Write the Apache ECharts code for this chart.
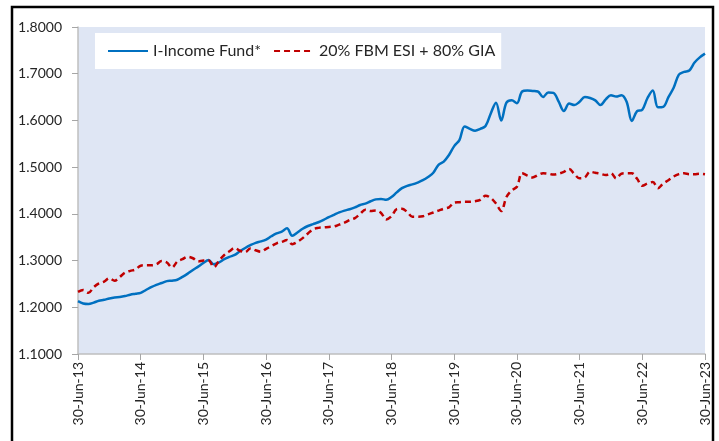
<!DOCTYPE html>
<html lang="en">
<head>
    <meta charset="utf-8">
    <title>I-Income Fund</title>
    <script src="https://cdn.jsdelivr.net/npm/echarts@6/dist/echarts.min.js"></script>
    <style>
        html, body { margin: 0; padding: 0; background: #fff; }
        #main { width: 719px; height: 441px; }
    </style>
</head>
<body>
<div id="main"></div>

<script type="text/javascript">
    // month ends Jun-13 .. Jun-23 (121 points)
    var monthNames = ['Jun','Jul','Aug','Sep','Oct','Nov','Dec','Jan','Feb','Mar','Apr','May'];
    var yearTicks = ['30-Jun-13','30-Jun-14','30-Jun-15','30-Jun-16','30-Jun-17','30-Jun-18',
                     '30-Jun-19','30-Jun-20','30-Jun-21','30-Jun-22','30-Jun-23'];

    var fund = [
        1.213,1.208,1.207,1.210,1.214,1.216,1.219,1.221,1.222,1.224,1.227,1.229,
        1.231,1.237,1.243,1.248,1.252,1.256,1.257,1.259,1.265,1.272,1.280,1.287,
        1.295,1.301,1.292,1.296,1.303,1.308,1.312,1.320,1.327,1.333,1.338,1.341,
        1.345,1.352,1.358,1.362,1.369,1.353,1.360,1.368,1.374,1.378,1.382,1.387,
        1.393,1.398,1.403,1.407,1.410,1.414,1.419,1.422,1.427,1.431,1.432,1.430,
        1.436,1.446,1.455,1.460,1.463,1.467,1.472,1.479,1.488,1.505,1.512,1.526,
        1.545,1.558,1.587,1.582,1.578,1.582,1.588,1.615,1.638,1.600,1.638,1.643,
        1.637,1.662,1.664,1.663,1.662,1.650,1.660,1.659,1.640,1.620,1.636,1.633,
        1.640,1.650,1.648,1.643,1.633,1.645,1.654,1.651,1.654,1.640,1.599,1.620,
        1.623,1.648,1.664,1.628,1.629,1.650,1.670,1.698,1.704,1.707,1.724,1.735,
        1.743
    ];

    var bench = [
        1.233,1.237,1.231,1.243,1.251,1.255,1.262,1.257,1.265,1.274,1.278,1.281,
        1.289,1.290,1.290,1.292,1.299,1.296,1.285,1.298,1.303,1.308,1.305,1.298,
        1.300,1.300,1.286,1.300,1.312,1.320,1.327,1.321,1.318,1.326,1.322,1.319,
        1.325,1.331,1.337,1.340,1.344,1.335,1.340,1.348,1.358,1.367,1.370,1.371,
        1.372,1.373,1.377,1.381,1.387,1.391,1.400,1.409,1.406,1.407,1.402,1.388,
        1.395,1.410,1.411,1.404,1.394,1.394,1.395,1.399,1.403,1.407,1.411,1.414,
        1.424,1.425,1.426,1.426,1.427,1.430,1.439,1.434,1.422,1.406,1.436,1.450,
        1.458,1.487,1.482,1.478,1.483,1.487,1.486,1.484,1.486,1.490,1.496,1.485,
        1.476,1.478,1.490,1.488,1.486,1.483,1.487,1.476,1.486,1.487,1.487,1.475,
        1.460,1.465,1.468,1.455,1.465,1.472,1.480,1.485,1.487,1.485,1.485,1.486,
        1.485
    ];

    var months = [];
    for (var i = 0; i < fund.length; i++) {
        if (i % 12 === 0) {
            months.push(yearTicks[i / 12]);
        } else {
            var yr = 13 + Math.floor((i + 5) / 12);
            months.push(monthNames[i % 12] + '-' + yr);
        }
    }

    var myChart = echarts.init(document.getElementById('main'));
    var font = 'Lato, "Open Sans", sans-serif';

    myChart.setOption({
        animation: false,
        backgroundColor: '#ffffff',
        graphic: [{
            type: 'rect',
            shape: { x: 12, y: 7, width: 701, height: 450 },
            style: { fill: 'none', stroke: '#000', lineWidth: 2.5 },
            z: 100
        }],
        grid: {
            left: 78, right: 14, top: 27, bottom: 87,
            show: true,
            backgroundColor: '#dfe6f4',
            borderWidth: 0
        },
        legend: {
            left: 95, top: 33,
            backgroundColor: '#ffffff',
            padding: [10, 6, 10, 12],
            itemWidth: 40,
            itemHeight: 14,
            itemGap: 12,
            itemStyle: { opacity: 0 },
            textStyle: { fontFamily: font, fontSize: 16, color: '#262626' },
            data: ['I-Income Fund*', '20% FBM ESI + 80% GIA']
        },
        xAxis: {
            type: 'category',
            boundaryGap: false,
            data: months,
            axisLine: { lineStyle: { color: '#bfbfbf', width: 1.5 } },
            axisTick: { interval: 11, length: 6, lineStyle: { color: '#a6a6a6' } },
            axisLabel: {
                interval: 11,
                rotate: 90,
                margin: 8,
                fontFamily: font,
                fontSize: 14,
                color: '#262626'
            },
            splitLine: { show: false }
        },
        yAxis: {
            type: 'value',
            min: 1.1, max: 1.8, interval: 0.1,
            axisLine: { show: true, lineStyle: { color: '#bfbfbf', width: 1.5 } },
            axisTick: { show: true, length: 6, lineStyle: { color: '#a6a6a6' } },
            axisLabel: {
                margin: 16,
                fontFamily: font,
                fontSize: 14,
                color: '#262626',
                formatter: function (v) { return v.toFixed(4); }
            },
            splitLine: { show: false }
        },
        series: [{
            name: 'I-Income Fund*',
            type: 'line',
            data: fund,
            symbol: 'none',
            smooth: 0.35,
            color: '#0070c0',
            lineStyle: { color: '#0070c0', width: 2.5 }
        }, {
            name: '20% FBM ESI + 80% GIA',
            type: 'line',
            data: bench,
            symbol: 'none',
            smooth: 0.35,
            color: '#c00000',
            lineStyle: { color: '#c00000', width: 2.5, type: [6, 4] }
        }]
    });
</script>
</body>
</html>
